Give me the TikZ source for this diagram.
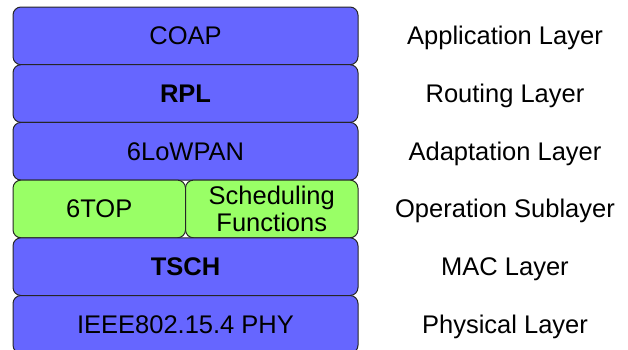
\documentclass[tikz,border=0pt]{standalone}
\usepackage{fontspec}
\setmainfont{Liberation Sans}
\usetikzlibrary{positioning}
\definecolor{layerblue}{HTML}{6666FF}
\definecolor{layergreen}{HTML}{99FF66}
\tikzset{>=stealth}

\begin{document}
\begin{tikzpicture}[x=1pt,y=-1pt,
  layer/.style={draw=black!85, fill=layerblue, rounded corners=8pt, line width=1pt,
    minimum width=345pt, minimum height=57.7pt, inner sep=0pt, outer sep=0pt,
    align=center, font=\fontsize{25.5}{27}\selectfont},
  sub/.style={layer, fill=layergreen, minimum width=172.5pt},
  lbl/.style={font=\fontsize{25.5}{27}\selectfont, inner sep=0pt, text height=18pt, text depth=0pt}]
\useasboundingbox (0,0) rectangle (628,349);
\clip (0,0) rectangle (628,349);
\node[layer, anchor=north west] (coap) at (13,7) {COAP};
\node[layer, below=0pt of coap] (rpl) {\textbf{RPL}};
\node[layer, below=0pt of rpl] (lowpan) {6LoWPAN};
\node[sub, anchor=north west] (sixtop) at (lowpan.south west) {6TOP};
\node[sub, right=0pt of sixtop] (sched) {Scheduling\\Functions};
\node[layer, anchor=north west] (tsch) at (sixtop.south west) {\textbf{TSCH}};
\node[layer, below=0pt of tsch] (phy) {IEEE802.15.4 PHY};
% layer names
\coordinate (lblx) at (505,0);
\node[lbl] (appl) at (lblx |- coap) {Application Layer};
\node[lbl] (routl) at (lblx |- rpl) {Routing Layer};
\node[lbl] (adapl) at (lblx |- lowpan) {Adaptation Layer};
\node[lbl] (opl) at (lblx |- sched) {Operation Sublayer};
\node[lbl] (macl) at (lblx |- tsch) {MAC Layer};
\node[lbl] (phyl) at (lblx |- phy) {Physical Layer};
\end{tikzpicture}
\end{document}
